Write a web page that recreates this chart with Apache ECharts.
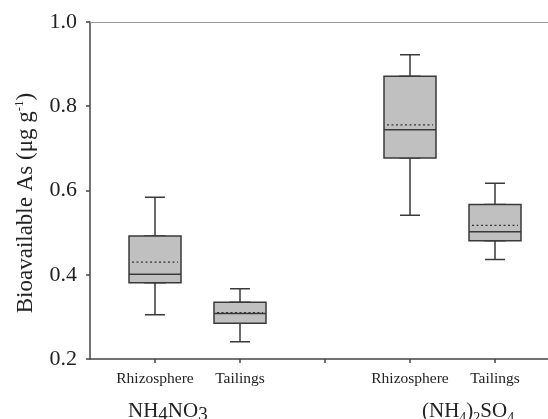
<!DOCTYPE html>
<html>
<head>
<meta charset="utf-8">
<script src="https://cdn.jsdelivr.net/npm/echarts@6/dist/echarts.min.js"></script>
<style>
  html, body { margin: 0; padding: 0; background: #fff; }
  #chart { width: 548px; height: 419px; }
</style>
</head>
<body>
<div id="chart"></div>
<script>
// categories (third slot is the gap between the two extractants)
var categories = ['Rhizosphere', 'Tailings', '', 'Rhizosphere', 'Tailings'];
var groupLabels = ['NH{sub|4}NO{sub|3}', '(NH{sub2|4}){sub2|2}SO{sub2|4}'];

// [min, Q1, median, Q3, max]
var boxStats = [
  [0.305, 0.381, 0.401, 0.492, 0.584],
  [0.241, 0.285, 0.308, 0.335, 0.367],
  null,
  [0.541, 0.677, 0.744, 0.871, 0.922],
  [0.436, 0.481, 0.502, 0.567, 0.617]
];
// dotted line = mean
var means = [0.430, 0.310, null, 0.756, 0.517];

var yTicks = [0.2, 0.4, 0.6, 0.8, 1.0];

var serif = '"Liberation Serif", "DejaVu Serif", serif';
var dark = '#3a3a3a';

var empty = ['-', '-', '-', '-', '-'];
var whiskerData = boxStats.map(function (s) { return s ? s : empty; });
// box only: whiskers collapsed onto the box edges
var bodyData = boxStats.map(function (s) { return s ? [s[1], s[1], s[2], s[3], s[3]] : empty; });
var meanData = means.map(function (m) { return m == null ? empty : [m, m, m, m, m]; });

// each boxplot series gets its own (hidden) category axis so they overlap instead of sitting side by side
function hiddenCat() {
  return { gridIndex: 1, type: 'category', data: categories, show: false };
}

var myChart = echarts.init(document.getElementById('chart'));

var option = {
  animation: false,
  backgroundColor: '#fff',
  grid: [
    // frame: y axis, bottom and top lines
    { left: 90, right: 0, top: 22, bottom: 60 },
    // boxes, 5 bands of 85px
    { left: 112.5, right: 10.5, top: 22, bottom: 60 }
  ],
  xAxis: [
    {
      gridIndex: 0, type: 'value', min: 0, max: 1, position: 'bottom',
      axisLine: { show: true, lineStyle: { color: '#444', width: 1.5 } },
      axisTick: { show: false }, axisLabel: { show: false }, splitLine: { show: false }
    },
    {
      gridIndex: 0, type: 'value', min: 0, max: 1, position: 'top',
      axisLine: { show: true, lineStyle: { color: '#9a9a9a', width: 1.2 } },
      axisTick: { show: false }, axisLabel: { show: false }, splitLine: { show: false }
    },
    {
      gridIndex: 1, type: 'category', data: categories, position: 'bottom',
      axisLine: { show: false },
      axisTick: { show: true, alignWithLabel: true, length: 4, interval: 0,
        lineStyle: { color: '#444', width: 1.5 } },
      axisLabel: { interval: 0, margin: 12, color: '#222', fontFamily: serif, fontSize: 15.5 },
      splitLine: { show: false }
    },
    hiddenCat(),
    hiddenCat()
  ],
  yAxis: [
    {
      gridIndex: 0, type: 'value', min: 0.2, max: 1.0, interval: 0.2,
      axisLine: { show: true, lineStyle: { color: '#444', width: 1.5 } },
      axisTick: { show: true, length: 4, lineStyle: { color: '#444', width: 1.5 } },
      axisLabel: {
        margin: 13, color: '#222', fontFamily: serif, fontSize: 22,
        formatter: function (v) { return v.toFixed(1); }
      },
      splitLine: { show: false }
    },
    {
      gridIndex: 1, type: 'value', min: 0.2, max: 1.0, show: false
    }
  ],
  graphic: [
    {
      type: 'text', x: 26, y: 203, rotation: Math.PI / 2,
      style: {
        text: 'Bioavailable As (μg g{sup|-1})',
        fontFamily: serif, fontSize: 23, fill: '#222',
        align: 'center', verticalAlign: 'middle',
        rich: { sup: { fontFamily: serif, fontSize: 13, fill: '#222', padding: [0, 0, 12, 0] } }
      }
    },
    {
      type: 'text', x: 128, y: 397,
      style: {
        text: groupLabels[0],
        fontFamily: serif, fontSize: 21, fill: '#222',
        rich: { sub: { fontFamily: serif, fontSize: 19, fill: '#222', padding: [9, 0, 0, 0] } }
      }
    },
    {
      type: 'text', x: 422, y: 397,
      style: {
        text: groupLabels[1],
        fontFamily: serif, fontSize: 21, fill: '#222',
        rich: { sub2: { fontFamily: serif, fontSize: 14, fill: '#222', padding: [14, 0, 0, 0] } }
      }
    }
  ],
  series: [
    {
      name: 'whiskers', type: 'boxplot', xAxisIndex: 2, yAxisIndex: 1, z: 1,
      boxWidth: [20, 20], data: whiskerData, silent: true,
      itemStyle: { color: '#c0c0c0', borderColor: dark, borderWidth: 1.5 },
      emphasis: { disabled: true }
    },
    {
      name: 'box', type: 'boxplot', xAxisIndex: 3, yAxisIndex: 1, z: 2,
      boxWidth: [52, 52], data: bodyData, silent: true,
      itemStyle: { color: '#c0c0c0', borderColor: dark, borderWidth: 1.5 },
      emphasis: { disabled: true }
    },
    {
      name: 'mean', type: 'boxplot', xAxisIndex: 4, yAxisIndex: 1, z: 3,
      boxWidth: [46, 46], data: meanData, silent: true,
      itemStyle: { color: 'rgba(0,0,0,0)', borderColor: '#333', borderWidth: 1.2, borderType: [1.5, 3] },
      emphasis: { disabled: true }
    }
  ]
};

myChart.setOption(option);
window.onresize = myChart.resize;
</script>
</body>
</html>
